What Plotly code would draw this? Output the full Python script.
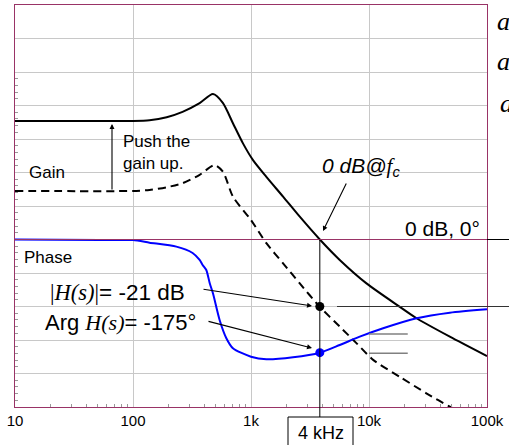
import plotly.graph_objects as go

# ---------------- data ----------------
freq_gain = [10, 100, 138, 193, 263, 367, 476, 579, 703, 855, 1040, 1350, 1870,
             2590, 3830, 5650, 9520, 18250, 25300, 48400, 100000]
gain_solid = [35.4, 35.4, 35.6, 36.5, 38.1, 40.7, 43.4, 40.7, 34.7, 28.7, 23.7, 18.7,
              12.8, 6.8, 0.0, -6.1, -13.1, -20.1, -23.5, -29.0, -34.8]

freq_push = [10, 100, 138, 193, 263, 367, 490, 579, 703, 1000, 1350, 1870, 2590,
             3830, 5650, 7860, 10900, 18250, 30600, 48400, 100000]
gain_dashed = [14.5, 14.5, 14.8, 15.6, 16.8, 19.3, 22.2, 20.2, 12.8, 5.8, -1.1, -7.1,
               -13.1, -20.1, -26.0, -31.0, -36.0, -41.0, -45.9, -49.9, -55.8]

freq_phase = [10, 52, 100, 138, 233, 320, 367, 389, 418, 447, 476, 542, 618, 703,
              1000, 1350, 2270, 3830, 5650, 8350, 13170, 25300, 48400, 100000]
phase_deg = [0, -0.8, -1, -4.9, -11.1, -20.9, -31.7, -39.4, -47.2, -67.7, -83.2,
             -124.5, -152.7, -168.2, -181.2, -185.2, -182.1, -175.0, -163.1, -150.3,
             -137.3, -121.8, -113.2, -107.9]

fc = 3830            # crossover frequency (labelled "4 kHz")
dot_gain = -20.0     # pushed-down gain at fc
dot_phase = -175.0   # phase at fc
pm_phase = [-146, -176]   # short phase reference marks
pm_freq = [10000, 21300]

tick_vals = [10, 100, 1000, 10000, 100000]
tick_text = ["10", "100", "1k", "10k", "100k"]

gain_range = [-50, 70]
phase_range = [-259, 362.5]

# ---------------- layout helpers ----------------
W, H = 509, 445
L, R, T, B = 15, 22, 5, 38
PW, PH = W - L - R, H - T - B


def px(x):
    return (x - L) / PW


def py(y):
    return (H - B - y) / PH


MAROON = "#993366"
SANS = "Liberation Sans, Arial, sans-serif"
SERIF = "Liberation Serif, Times New Roman, serif"

fig = go.Figure()
fig.add_trace(go.Scatter(x=freq_gain, y=gain_solid, mode="lines",
                         line=dict(color="black", width=2, shape="spline", smoothing=0.7),
                         hoverinfo="skip"))
fig.add_trace(go.Scatter(x=freq_push, y=gain_dashed, mode="lines",
                         line=dict(color="black", width=2, dash="8px,5px",
                                   shape="spline", smoothing=0.7),
                         hoverinfo="skip"))
fig.add_trace(go.Scatter(x=freq_phase, y=phase_deg, mode="lines", yaxis="y2",
                         line=dict(color="#0000ff", width=2, shape="spline", smoothing=0.7),
                         hoverinfo="skip"))
fig.add_trace(go.Scatter(x=[fc], y=[dot_gain], mode="markers",
                         marker=dict(color="black", size=9), hoverinfo="skip"))
fig.add_trace(go.Scatter(x=[fc], y=[dot_phase], mode="markers", yaxis="y2",
                         marker=dict(color="#0000ff", size=9), hoverinfo="skip"))

minor_x = [m * 10 ** k for k in range(1, 5) for m in range(2, 10)]
minor_y = [v for v in range(-48, 50, 2) if v % 10 != 0]

fig.update_layout(
    width=W, height=H,
    margin=dict(l=L, r=R, t=T, b=B),
    paper_bgcolor="white", plot_bgcolor="white",
    showlegend=False,
    xaxis=dict(type="log", range=[1, 5], tickvals=tick_vals, ticktext=tick_text,
               showgrid=True, gridcolor="#c8c8c8", gridwidth=1,
               showline=True, mirror=True, linecolor=MAROON, linewidth=1,
               ticks="", zeroline=False,
               tickfont=dict(family=SANS, size=15, color="black"),
               minor=dict(tickvals=minor_x, ticks="inside", ticklen=3,
                          tickcolor="#999999", showgrid=False)),
    yaxis=dict(range=gain_range, tickvals=list(range(-40, 70, 10)),
               showgrid=True, gridcolor="#c8c8c8", gridwidth=1,
               showline=True, mirror=True, linecolor=MAROON, linewidth=1,
               ticks="", showticklabels=False, zeroline=False,
               minor=dict(tickvals=minor_y, ticks="inside", ticklen=3,
                          tickcolor="#999999", showgrid=False)),
    yaxis2=dict(range=phase_range, overlaying="y", visible=False),
)

zero_paper = (0 - gain_range[0]) / (gain_range[1] - gain_range[0])
shapes = [
    dict(type="line", xref="paper", yref="y", x0=0, x1=1, y0=0, y1=0,
         line=dict(color=MAROON, width=1.2)),
    dict(type="line", xref="paper", yref="y", x0=1, x1=px(510), y0=0, y1=0,
         line=dict(color="black", width=1)),
    dict(type="line", xref="paper", yref="y", x0=px(337), x1=px(510),
         y0=dot_gain, y1=dot_gain, line=dict(color="#333333", width=1)),
    dict(type="line", xref="x", yref="paper", x0=fc, x1=fc, y0=zero_paper, y1=py(417),
         line=dict(color="black", width=1)),
    dict(type="rect", xref="paper", yref="paper", x0=px(288), x1=px(353),
         y0=py(417), y1=py(448), line=dict(color="black", width=1), fillcolor="white"),
]
for ph in pm_phase:
    shapes.append(dict(type="line", xref="x", yref="y2", x0=pm_freq[0], x1=pm_freq[1],
                       y0=ph, y1=ph, line=dict(color="#808080", width=1.5)))
fig.update_layout(shapes=shapes)


def label(text, x, y, size, xanchor="left", family=SANS, align="left"):
    return dict(text=text, xref="paper", yref="paper", x=px(x), y=py(y),
                xanchor=xanchor, yanchor="middle", showarrow=False, align=align,
                font=dict(family=family, size=size, color="black"))


def arrow(x, y, ax, ay):
    return dict(text="", xref="paper", yref="paper", x=px(x), y=py(y),
                ax=ax, ay=ay, showarrow=True, arrowhead=2, arrowsize=0.9,
                arrowwidth=1.1, arrowcolor="black", standoff=0)


serif_H = "<span style='font-family:Liberation Serif'><i>H(s)</i></span>"
annotations = [
    label("Push the<br>gain up.", 121, 152.5, 17),
    label("Gain", 27, 172, 17),
    label("Phase", 22, 257, 17),
    label("<i>0 dB@</i><span style='font-family:Liberation Serif'><i>f</i></span>"
          "<sub><i>c</i></sub>", 320, 167, 21),
    label("0 dB, 0°", 403, 228, 21),
    label("<span style='font-family:Liberation Serif'>|</span>" + serif_H +
          "<span style='font-family:Liberation Serif'>|</span>= -21 dB", 48, 292, 22.5),
    label("Arg " + serif_H + "= -175°", 43, 322, 22),
    label("4 kHz", 320.5, 433, 18, xanchor="center"),
    label("<i>a</i>", 495, 21, 26, family=SERIF),
    label("<i>a</i>", 495, 62, 26, family=SERIF),
    label("<i>a</i>", 498, 103, 26, family=SERIF),
    arrow(112, 124, 0, 67),
    arrow(323, 231, 24, -49),
    arrow(312, 306, -110, -17),
    arrow(312, 348, -105, -27),
]
fig.update_layout(annotations=annotations)

fig.write_html("out.html", config={"displayModeBar": False},
               post_script="document.body.style.margin='0';"
                           "document.body.style.overflow='hidden';")
